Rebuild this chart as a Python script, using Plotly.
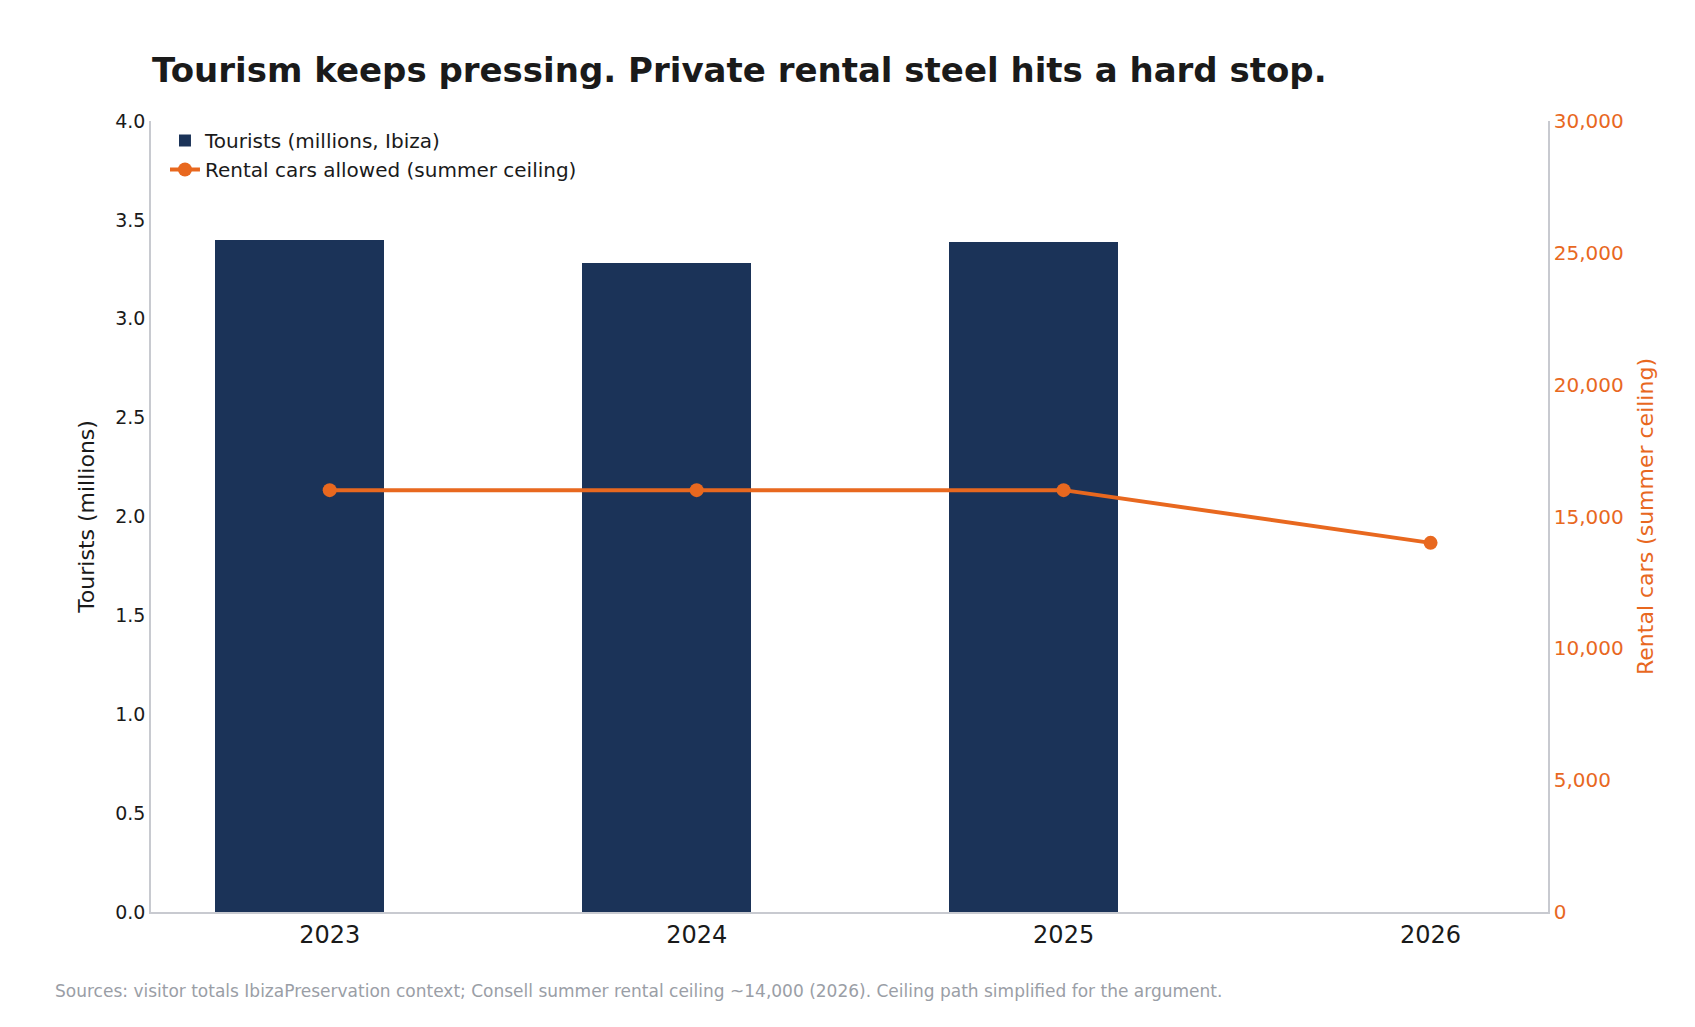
import plotly.graph_objects as go

years = ["2023", "2024", "2025", "2026"]
tourists = [3.40, 3.28, 3.39]
rental_cars = [16000, 16000, 16000, 14000]

FONT = "DejaVu Sans"
NAVY = "#1b3358"
ORANGE = "#e8681f"

pos = list(range(len(years)))

fig = go.Figure()
fig.add_trace(go.Bar(
    x=[p - 0.083 for p in pos[:len(tourists)]],
    y=tourists,
    width=0.46,
    name="Tourists (millions, Ibiza)",
    marker_color=NAVY,
    marker_line_width=0,
))
fig.add_trace(go.Scatter(
    x=pos,
    y=rental_cars,
    yaxis="y2",
    name="Rental cars allowed (summer ceiling)",
    mode="lines+markers",
    line=dict(color=ORANGE, width=4),
    marker=dict(size=14, color=ORANGE),
))

fig.update_layout(
    width=1695, height=1027,
    template="plotly_white",
    font=dict(family=FONT, size=19, color="#1a1a1a"),
    margin=dict(l=143, r=155, t=113, b=123),
    title=dict(
        text="<b>Tourism keeps pressing. Private rental steel hits a hard stop.</b>",
        x=0.085, xanchor="left", y=0.94, yanchor="middle",
        font=dict(size=34, color="#1a1a1a"),
    ),
    xaxis=dict(
        range=[-0.487, 3.32], tickvals=pos, ticktext=years,
        showgrid=False, zeroline=False, showline=True,
        linecolor="#c8cad0", linewidth=1.5, tickfont=dict(size=24),
        ticks="", ticklen=6,
    ),
    yaxis=dict(
        range=[0, 4], dtick=0.5, tickformat=".1f",
        title=dict(text="Tourists (millions)", font=dict(size=22)),
        showgrid=False, zeroline=False, showline=True,
        linecolor="#c8cad0", linewidth=1.5,
    ),
    yaxis2=dict(
        range=[0, 30000], dtick=5000, tickformat=",",
        overlaying="y", side="right",
        title=dict(text="Rental cars (summer ceiling)", font=dict(size=22, color=ORANGE)),
        tickfont=dict(color=ORANGE, size=20),
        showgrid=False, zeroline=False, showline=True,
        linecolor="#c8cad0", linewidth=1.5,
    ),
    legend=dict(
        x=0.01, y=1.0, xanchor="left", yanchor="top",
        bgcolor="rgba(255,255,255,0)", font=dict(size=20),
    ),
    bargap=0,
)

fig.add_annotation(
    text="Sources: visitor totals IbizaPreservation context; Consell summer rental ceiling ~14,000 (2026). Ceiling path simplified for the argument.",
    xref="paper", yref="paper", x=-0.07, y=-0.1,
    xanchor="left", yanchor="middle", showarrow=False,
    font=dict(size=17, color="#9a9ea6"),
)

fig.write_html("out.html")
